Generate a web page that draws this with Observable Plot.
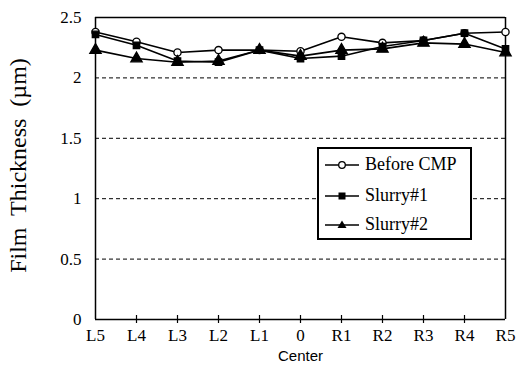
<!DOCTYPE html>
<html>
<head>
<meta charset="utf-8">
<script src="https://cdn.jsdelivr.net/npm/d3@7"></script>
<script src="https://cdn.jsdelivr.net/npm/@observablehq/plot@0.6"></script>
<style>
  body { margin: 0; background: #fff; }
  #wrap { position: relative; width: 527px; height: 380px; }
  #legend { position: absolute; left: 317px; top: 147px; width: 151px; height: 89px;
    border: 2px solid #000; background: #fff; font-family: "Liberation Serif", serif; font-size: 18px; }
  .row { display: flex; align-items: center; height: 31px; padding-left: 6px; }
  .row:last-child { height: 27px; }
  .row svg { margin-right: 4px; }
</style>
</head>
<body>
<div id="wrap"></div>
<script>
const positions = ["L5","L4","L3","L2","L1","0","R1","R2","R3","R4","R5"];
const beforeCMP = [2.38,2.30,2.21,2.23,2.23,2.22,2.34,2.29,2.31,2.37,2.38];
const slurry1   = [2.36,2.27,2.14,2.13,2.23,2.16,2.18,2.26,2.31,2.37,2.24];
const slurry2   = [2.23,2.16,2.13,2.14,2.23,2.18,2.23,2.24,2.29,2.28,2.21];
const seriesNames = ["Before CMP","Slurry#1","Slurry#2"];
const yTicks = [0,0.5,1,1.5,2,2.5];
const gridLines = [0.5,1,1.5,2];

const seriesValues = [beforeCMP, slurry1, slurry2];
const symbols = ["circle","square","triangle"];
const fills = ["white","black","black"];
const radii = [3.6,3.6,4.2];
const data = seriesNames.map((s,i) => positions.map((p,j) => ({series: s, pos: p, value: seriesValues[i][j]})));

const marks = [
  Plot.ruleY(gridLines, {stroke: "#000", strokeDasharray: "4,3", strokeWidth: 1}),
  Plot.ruleY([2.5], {stroke: "#000", strokeWidth: 1.5}),
  Plot.ruleX([positions[positions.length-1]], {stroke: "#000", strokeWidth: 1.5}),
  Plot.ruleX([positions[0]], {stroke: "#000", strokeWidth: 1.5}),
  Plot.ruleY([0], {stroke: "#000", strokeWidth: 1.5}),
  Plot.ruleX(positions.slice(1,-1), {y1: 0, y2: 0, insetTop: -4, insetBottom: -4, stroke: "#000", strokeWidth: 1.2}),
];
data.forEach((d,i) => {
  marks.push(Plot.line(d, {x: "pos", y: "value", stroke: "#000", strokeWidth: 1.6}));
});
data.forEach((d,i) => {
  marks.push(Plot.dot(d, {x: "pos", y: "value", symbol: symbols[i], r: radii[i], fill: fills[i], stroke: "#000", strokeWidth: 1.3}));
});

const chart = Plot.plot({
  width: 527, height: 380,
  marginLeft: 95, marginRight: 22, marginTop: 17, marginBottom: 61,
  style: {background: "#fff", color: "#000"},
  x: {type: "point", domain: positions, padding: 0, label: null},
  y: {domain: [0,2.5], label: null},
  marks: [
    ...marks,
    Plot.axisX({tickSize: 0, tickPadding: 9, fontSize: 17, fontFamily: "Liberation Serif", label: null}),
    Plot.axisY({ticks: yTicks, tickFormat: d => String(d), tickSize: 0, tickPadding: 14, fontSize: 17, fontFamily: "Liberation Serif", label: null}),
    Plot.text(["Center"], {frameAnchor: "bottom", dy: 41, fontSize: 15, fontFamily: "Liberation Sans"}),
    Plot.text(["Film  Thickness  (µm)"], {frameAnchor: "left", dx: -77, dy: -3, rotate: -90, textAnchor: "middle", fontSize: 24, fontFamily: "Liberation Serif"})
  ]
});
const wrap = document.getElementById("wrap");
wrap.appendChild(chart);

const legend = document.createElement("div");
legend.id = "legend";
seriesNames.forEach((name,i) => {
  const row = document.createElement("div");
  row.className = "row";
  let sym;
  if (symbols[i] === "circle") sym = `<circle cx="17" cy="7" r="3.3" fill="white" stroke="black" stroke-width="1.3"/>`;
  else if (symbols[i] === "square") sym = `<rect x="13.5" y="3.5" width="7" height="7" fill="black"/>`;
  else sym = `<path d="M17,2.5 L21.5,10 L12.5,10 Z" fill="black"/>`;
  row.innerHTML = `<svg width="36" height="14"><line x1="0" y1="7" x2="34" y2="7" stroke="black" stroke-width="1.6"/>${sym}</svg><span>${name}</span>`;
  legend.appendChild(row);
});
wrap.appendChild(legend);
</script>
</body>
</html>
